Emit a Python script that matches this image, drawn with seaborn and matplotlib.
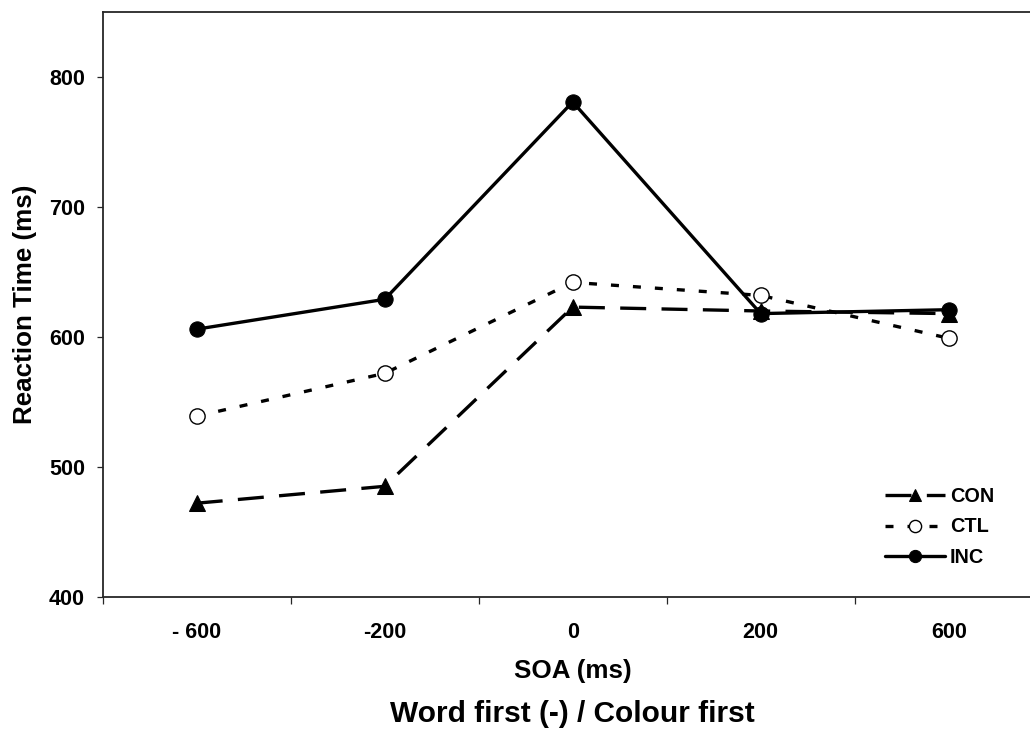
import matplotlib
matplotlib.use("Agg")
import matplotlib.pyplot as plt
import seaborn as sns
import numpy as np

# ---- data ----
soa_labels = ["- 600", "-200", "0", "200", "600"]
con_rt = [472, 485, 623, 620, 618]
ctl_rt = [539, 572, 642, 632, 599]
inc_rt = [606, 629, 781, 618, 621]
series_names = ["CON", "CTL", "INC"]
y_ticks = [400, 500, 600, 700, 800]

sns.set_theme(style="white")
plt.rcParams["font.family"] = ["Liberation Sans", "DejaVu Sans"]
plt.rcParams["font.weight"] = "bold"
plt.rcParams["text.color"] = "black"

W, H = 1030, 731
fig = plt.figure(figsize=(W / 100, H / 100), dpi=100)
ax = fig.add_axes([102.7 / W, (H - 596.7) / H, 940 / W, 584.4 / H])

lw = 2.4
ms = 11
sns.lineplot(x=soa_labels, y=con_rt, ax=ax, color="black", lw=lw,
             linestyle=(0, (7.8, 4.6)), marker="^", markersize=ms,
             markerfacecolor="black", markeredgecolor="black", sort=False,
             errorbar=None)
sns.lineplot(x=soa_labels, y=ctl_rt, ax=ax, color="black", lw=lw,
             linestyle=(0, (2.4, 4.2)), marker="o", markersize=ms,
             markerfacecolor="white", markeredgecolor="black",
             markeredgewidth=1.0, sort=False, errorbar=None)
sns.lineplot(x=soa_labels, y=inc_rt, ax=ax, color="black", lw=lw,
             linestyle="-", marker="o", markersize=ms,
             markerfacecolor="black", markeredgecolor="black", sort=False,
             errorbar=None)

ax.set_xlim(-0.5, 4.5)
ax.set_ylim(400, 850)
ax.set_yticks(y_ticks)
ax.set_yticklabels([str(v) for v in y_ticks])
ax.set_xticks(range(len(soa_labels)))
ax.set_xticklabels(soa_labels)
ax.set_xticks(np.arange(-0.5, len(soa_labels), 1.0), minor=True)

spine_c = "#262626"
for side in ["left", "bottom", "top"]:
    ax.spines[side].set_visible(True)
    ax.spines[side].set_color(spine_c)
    ax.spines[side].set_linewidth(1.3)
ax.spines["right"].set_visible(False)
ax.grid(False)

ax.tick_params(axis="x", which="major", length=0, pad=18, labelsize=15.5,
               labelcolor="black")
ax.tick_params(axis="x", which="minor", length=5, width=0.9, direction="out",
               color=spine_c, bottom=True)
ax.tick_params(axis="y", which="major", length=4.3, width=0.9, direction="out",
               color=spine_c, pad=8.4, labelsize=15.5, labelcolor="black",
               left=True)
for t in ax.get_xticklabels() + ax.get_yticklabels():
    t.set_fontweight("bold")

ax.set_xlabel("SOA (ms)", fontsize=18.7, fontweight="bold", color="black")
ax.xaxis.set_label_coords(0.5, -0.139)
ax.xaxis.label.set_va("baseline")
ax.set_ylabel("Reaction Time (ms)", fontsize=18.7, fontweight="bold",
              color="black")
ax.yaxis.label.set_va("center")
ax.yaxis.set_label_coords(-0.0827, 0.5)

ax.text(0.5, -0.2139, "Word first (-) / Colour first", transform=ax.transAxes,
        ha="center", va="baseline", fontsize=21.5, fontweight="bold",
        color="black")

handles = ax.lines[:3]
leg = ax.legend(handles, series_names, loc="center left",
                bbox_to_anchor=(885 / W, 1 - 527 / H),
                bbox_transform=fig.transFigure, frameon=False,
                borderpad=0, borderaxespad=0, handlelength=3.0,
                handletextpad=0.27, labelspacing=0.6, markerscale=0.8,
                prop={"size": 14.3, "weight": "bold"})
for t in leg.get_texts():
    t.set_color("black")

fig.savefig("out.png", dpi=100)
